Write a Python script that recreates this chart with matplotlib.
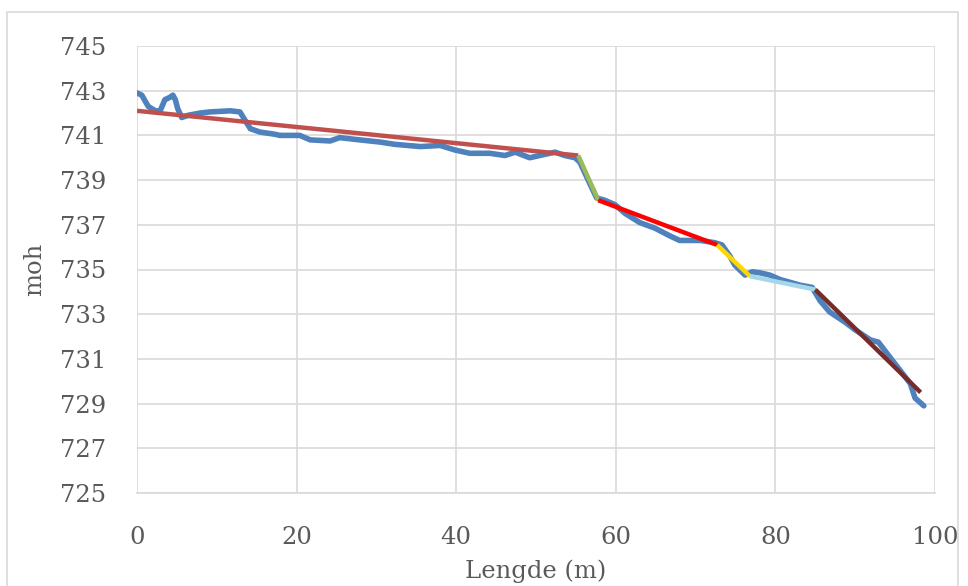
import matplotlib.pyplot as plt
from matplotlib.patches import Rectangle

lengde = [0, 0.6, 1.4, 2.3, 2.9, 3.5, 4.1, 4.5, 4.8, 5.1, 5.6, 6.4, 7.9, 9.1, 11.7,
          12.9, 13.5, 14.2, 15.4, 17.3, 17.9, 20.4, 21.7, 24.2, 25.4, 27.9, 30.5,
          32.3, 35.5, 38.0, 39.8, 41.7, 44.2, 46.1, 47.4, 49.2, 51.1, 52.4, 53.6,
          54.9, 55.5, 56.8, 57.6, 58.6, 59.9, 61.2, 63.0, 64.9, 66.8, 68.0, 70.6,
          72.4, 73.3, 74.3, 74.9, 76.2, 77.1, 78.1, 79.3, 80.6, 83.1, 84.6, 85.6,
          86.8, 88.7, 90.0, 91.9, 92.9, 94.4, 95.6, 96.9, 97.5, 98.6]
moh = [742.9, 742.8, 742.3, 742.1, 742.1, 742.6, 742.7, 742.8, 742.6, 742.2, 741.8,
       741.9, 742.0, 742.05, 742.1, 742.05, 741.7, 741.3, 741.15, 741.05, 741.0,
       741.0, 740.8, 740.75, 740.9, 740.8, 740.7, 740.6, 740.5, 740.55, 740.35,
       740.2, 740.2, 740.1, 740.25, 740.0, 740.15, 740.25, 740.1, 740.0, 739.8,
       738.8, 738.2, 738.1, 737.9, 737.5, 737.1, 736.85, 736.5, 736.3, 736.3,
       736.2, 736.1, 735.6, 735.2, 734.75, 734.9, 734.85, 734.75, 734.55, 734.3,
       734.2, 733.6, 733.1, 732.65, 732.3, 731.85, 731.75, 731.05, 730.5, 729.9,
       729.25, 728.9]

# Fitted straight segments: start/end length and elevation
seg_x0 = [0, 55.3, 57.8, 72.7, 76.8, 85.0]
seg_x1 = [55.3, 57.8, 72.7, 76.8, 85.0, 98.2]
seg_y0 = [742.1, 740.1, 738.1, 736.1, 734.7, 734.1]
seg_y1 = [740.1, 738.1, 736.1, 734.7, 734.1, 729.5]
seg_colors = ['#C0504D', '#9BBB59', '#FF0000', '#FFD700', '#A5D8E6', '#772C2A']

xticks = [0, 20, 40, 60, 80, 100]
yticks = list(range(725, 746, 2))

plt.rcParams['font.family'] = ['DejaVu Serif']
grey = '#595959'

fig = plt.figure(figsize=(9.68, 5.86), dpi=100)
ax = fig.add_axes([137 / 968, 1 - 493 / 586, (935 - 137) / 968, (493 - 46) / 586])

# outer chart frame
fig.patches.append(Rectangle((7 / 968, -0.05), 951 / 968, 1.05 - 12 / 586,
                             transform=fig.transFigure, fill=False,
                             edgecolor='#D9D9D9', lw=1.2))

ax.plot(lengde, moh, color='#4F81BD', lw=4, solid_capstyle='round', zorder=3)
for i in range(len(seg_x0)):
    ax.plot([seg_x0[i], seg_x1[i]], [seg_y0[i], seg_y1[i]], color=seg_colors[i],
            lw=3.2, solid_capstyle='butt', zorder=4)

ax.set_xlim(0, 100)
ax.set_ylim(725, 745)
ax.set_xticks(xticks)
ax.set_yticks(yticks)
ax.grid(True, color='#D9D9D9', lw=1.2)
ax.set_axisbelow(True)
for s in ['top', 'right', 'left']:
    ax.spines[s].set_visible(False)
ax.spines['bottom'].set_color('#D9D9D9')
ax.spines['bottom'].set_linewidth(1.2)
ax.tick_params(length=0, labelsize=17.5, labelcolor=grey)
ax.tick_params(axis='y', pad=22)
ax.tick_params(axis='x', pad=24)
ax.set_xlabel('Lengde (m)', fontsize=17.5, color=grey, labelpad=7)
ax.set_ylabel('moh', fontsize=17.5, color=grey, labelpad=10)

fig.savefig('out.png', dpi=100)
